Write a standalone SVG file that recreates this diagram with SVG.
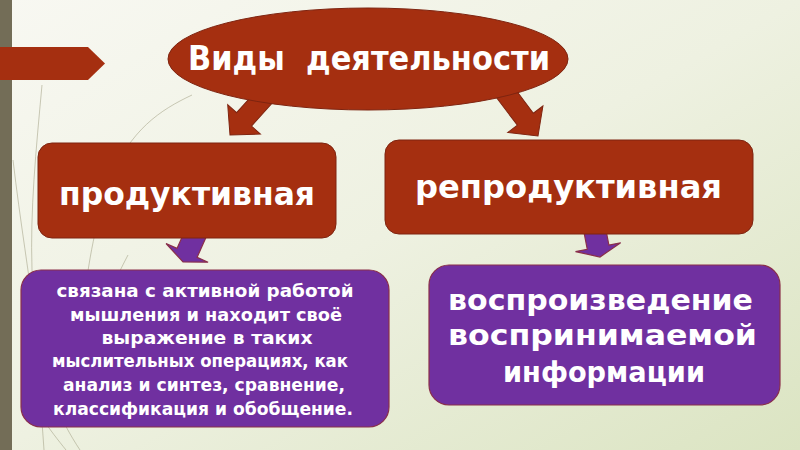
<svg xmlns="http://www.w3.org/2000/svg" xmlns:xlink="http://www.w3.org/1999/xlink" width="800" height="450" viewBox="0 0 800 450">
<defs>
<linearGradient id="bg" x1="0" y1="0" x2="1" y2="1">
<stop offset="0" stop-color="#f8f8f2"/>
<stop offset="0.5" stop-color="#eef1e1"/>
<stop offset="1" stop-color="#dbe4c2"/>
</linearGradient>
<polygon id="redArrow" points="-10,-56 10,-56 10,-21 22,-21 0,0 -22,-21 -10,-21"/>
<polygon id="purpleArrow" points="-11,-36 11,-36 11,-10 23,-10 0,0 -23,-10 -11,-10"/>
<style>
.red{fill:#a52f10;stroke:#7e2410;stroke-width:1}
.purple{fill:#7030a0;stroke:#8a2f4a;stroke-width:1.2}
.grass{fill:none;stroke:#a9a68c;stroke-width:1;opacity:0.6}
.t{font-family:"DejaVu Sans","Noto Sans",sans-serif;font-weight:bold;fill:#ffffff;text-anchor:middle}
.big{font-size:32px}
.mid{font-size:28px}
.small{font-size:18px}
</style>
</defs>
<g id="background">
<rect x="0" y="0" width="800" height="450" fill="url(#bg)"/>
<path class="grass" d="M42,85 C36,150 30,210 32,270 C34,330 40,390 44,450"/>
<path class="grass" d="M13,160 C20,220 30,280 36,330 C42,380 60,420 80,450"/>
<path class="grass" d="M192,95 C160,110 130,130 110,180 C98,215 90,250 84,300"/>
<path class="grass" d="M128,255 C115,280 105,300 100,330"/>
<path class="grass" d="M40,415 C50,430 58,440 66,450"/>
<rect x="0" y="0" width="12" height="450" fill="#736d57"/>
<polygon points="0,47 88,47 105,63.5 88,80 0,80" fill="#a52f10"/>
</g>
<g id="connectors">
<use href="#redArrow" class="red" transform="translate(230,135) rotate(42)"/>
<use href="#redArrow" class="red" transform="translate(538,136) rotate(-37)"/>
<use href="#purpleArrow" class="purple" transform="translate(183,262) rotate(24)"/>
<use href="#purpleArrow" class="purple" transform="translate(600,257) rotate(-11)"/>
</g>
<g id="root">
<ellipse cx="368" cy="59" rx="200" ry="51" class="red"/>
<text x="369" y="70" class="t" style="font-size:33px;white-space:pre" xml:space="preserve" textLength="362" lengthAdjust="spacingAndGlyphs">Виды  деятельности</text>
</g>
<g id="productive">
<rect x="38" y="143" width="298" height="95" rx="14" class="red"/>
<text x="187" y="205" class="t big" textLength="256" lengthAdjust="spacingAndGlyphs">продуктивная</text>
</g>
<g id="reproductive">
<rect x="385" y="140" width="368" height="94" rx="14" class="red"/>
<text x="568.5" y="198" class="t big" textLength="307" lengthAdjust="spacingAndGlyphs">репродуктивная</text>
</g>
<g id="productive-desc">
<rect x="21" y="270" width="368" height="157" rx="20" class="purple"/>
<text class="t small" x="205" y="297" textLength="297" lengthAdjust="spacingAndGlyphs">связана с активной работой</text>
<text class="t small" x="206" y="321" textLength="272" lengthAdjust="spacingAndGlyphs">мышления и находит своё</text>
<text class="t small" x="207" y="344" textLength="211" lengthAdjust="spacingAndGlyphs">выражение в таких</text>
<text class="t small" x="200" y="367" textLength="296" lengthAdjust="spacingAndGlyphs">мыслительных операциях, как</text>
<text class="t small" x="204" y="391" textLength="282" lengthAdjust="spacingAndGlyphs">анализ и синтез, сравнение,</text>
<text class="t small" x="203" y="415" textLength="300" lengthAdjust="spacingAndGlyphs">классификация и обобщение.</text>
</g>
<g id="reproductive-desc">
<rect x="429" y="265" width="351" height="140" rx="20" class="purple"/>
<text class="t mid" x="600.5" y="310" textLength="305" lengthAdjust="spacingAndGlyphs">воспроизведение</text>
<text class="t mid" x="602.5" y="345" textLength="309" lengthAdjust="spacingAndGlyphs">воспринимаемой</text>
<text class="t mid" x="604" y="382" textLength="202" lengthAdjust="spacingAndGlyphs">информации</text>
</g>
</svg>
